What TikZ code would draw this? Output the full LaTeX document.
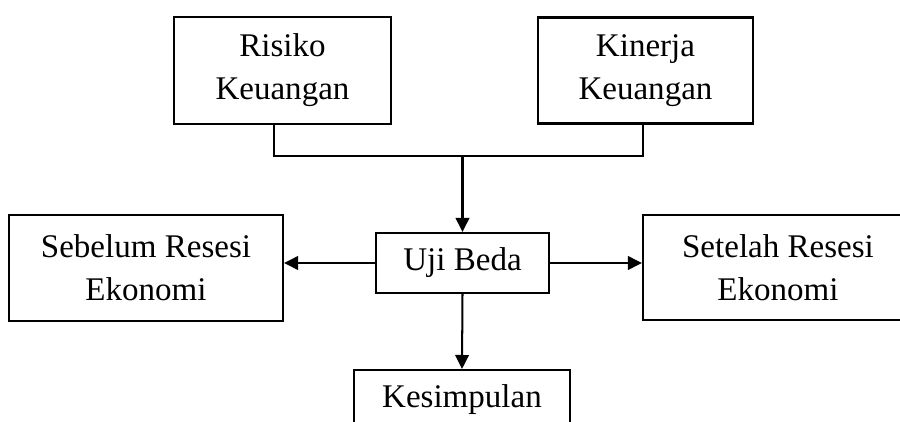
\documentclass[tikz,border=0pt]{standalone}
\usepackage{fontspec}
\setmainfont{Liberation Serif}
\usepackage{tikz}
\usetikzlibrary{arrows.meta,positioning}

\begin{document}
\begin{tikzpicture}[
  font=\fontsize{18.8}{24.5}\selectfont,
  box/.style={draw,line width=1.15pt,inner sep=0pt,align=center},
  ar/.style={-{Triangle[length=2.8mm,width=2.7mm]},line width=1.15pt}]
\useasboundingbox (0,0) rectangle (18,8.42);
\clip (0,0) rectangle (18,8.42);
\node[box,minimum width=4.34cm,minimum height=2.14cm] (risk) at (5.65,7.01) {Risiko\\Keuangan};
\node[box,minimum width=4.30cm,minimum height=2.12cm] (perf) at (12.91,7.01) {Kinerja\\Keuangan};
\node[box,minimum width=3.46cm,minimum height=1.2cm] (test) at (9.25,3.16) {Uji Beda};
\node[box,minimum width=5.48cm,minimum height=2.12cm] (before) at (2.92,3.06) {Sebelum Resesi\\Ekonomi};
\node[box,minimum width=5.40cm,minimum height=2.10cm] (after) at (15.56,3.07) {Setelah Resesi\\Ekonomi};
\node[box,minimum width=4.32cm,minimum height=1.2cm] (concl) at (9.24,0.42) {Kesimpulan};
\coordinate (join) at (9.25,5.30);
\draw[line width=1.15pt] ([xshift=-1.7mm]risk.south) |- (join) -| ([xshift=-0.5mm]perf.south);
\draw[ar] (join) -- (test.north);
\draw[ar] (test.west) -- (test.west -| before.east);
\draw[ar] (test.east) -- (test.east -| after.west);
\draw[ar] (test.south) -- (concl.north);
\end{tikzpicture}
\end{document}
